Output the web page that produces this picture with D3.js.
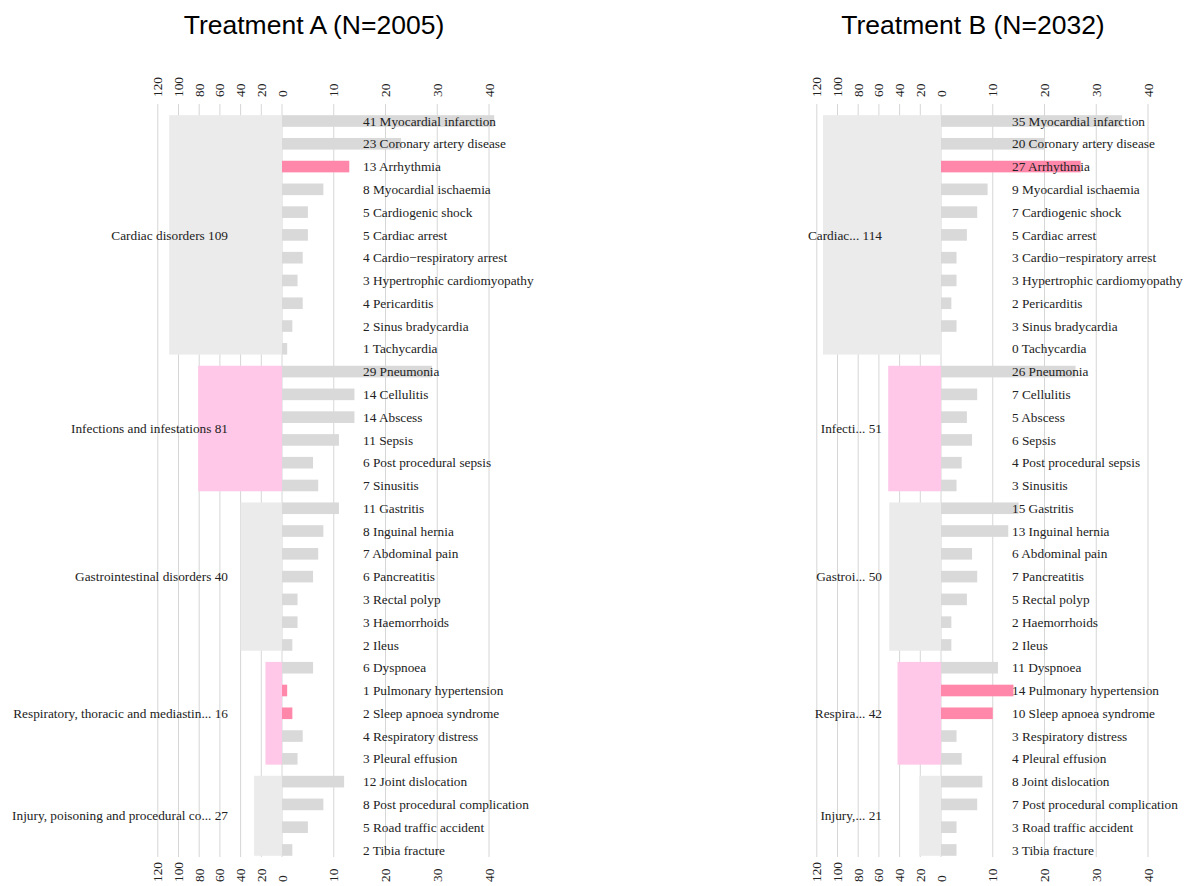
<!DOCTYPE html>
<html><head><meta charset="utf-8">
<script src="https://cdn.jsdelivr.net/npm/d3@7"></script>
<style>body{margin:0;background:#fff}</style>
</head><body>
<svg id="chart" width="1188" height="886"></svg>
<script>
// ---- data ----
const titles = ["Treatment A (N=2005)", "Treatment B (N=2032)"];
const socNames = ["Cardiac disorders", "Infections and infestations", "Gastrointestinal disorders",
  "Respiratory, thoracic and mediastinal disorders", "Injury, poisoning and procedural complications"];
const socLabelsA = ["Cardiac disorders", "Infections and infestations", "Gastrointestinal disorders",
  "Respiratory, thoracic and mediastin...", "Injury, poisoning and procedural co..."];
const socLabelsB = ["Cardiac...", "Infecti...", "Gastroi...", "Respira...", "Injury,..."];
const socTotalsA = [109, 81, 40, 16, 27];
const socTotalsB = [114, 51, 50, 42, 21];
const socHighlighted = [false, true, false, true, false];
const ptSoc = [0,0,0,0,0,0,0,0,0,0,0, 1,1,1,1,1,1, 2,2,2,2,2,2,2, 3,3,3,3,3, 4,4,4,4];
const ptNames = ["Myocardial infarction", "Coronary artery disease", "Arrhythmia", "Myocardial ischaemia",
  "Cardiogenic shock", "Cardiac arrest", "Cardio\u2212respiratory arrest", "Hypertrophic cardiomyopathy",
  "Pericarditis", "Sinus bradycardia", "Tachycardia",
  "Pneumonia", "Cellulitis", "Abscess", "Sepsis", "Post procedural sepsis", "Sinusitis",
  "Gastritis", "Inguinal hernia", "Abdominal pain", "Pancreatitis", "Rectal polyp", "Haemorrhoids", "Ileus",
  "Dyspnoea", "Pulmonary hypertension", "Sleep apnoea syndrome", "Respiratory distress", "Pleural effusion",
  "Joint dislocation", "Post procedural complication", "Road traffic accident", "Tibia fracture"];
const ptCountsA = [41,23,13,8,5,5,4,3,4,2,1, 29,14,14,11,6,7, 11,8,7,6,3,3,2, 6,1,2,4,3, 12,8,5,2];
const ptCountsB = [35,20,27,9,7,5,3,3,2,3,0, 26,7,5,6,4,3, 15,13,6,7,5,2,2, 11,14,10,3,4, 8,7,3,3];
const ptHighlighted = ["Arrhythmia", "Pulmonary hypertension", "Sleep apnoea syndrome"];
const ptTicks = [0, 10, 20, 30, 40];
const socTicks = [0, 20, 40, 60, 80, 100, 120];

// ---- layout ----
const panels = [
  {title: titles[0], socLabels: socLabelsA, socTotals: socTotalsA, counts: ptCountsA, x0: 282, titleX: 314, labelDx: 81, socDx: 54},
  {title: titles[1], socLabels: socLabelsB, socTotals: socTotalsB, counts: ptCountsB, x0: 941, titleX: 973, labelDx: 71, socDx: 59}
];
const pxPerUnit = 5.175;
const step = 22.78;
const yTopCenter = 121;
const n = ptNames.length;

const y = d3.scaleBand().domain(d3.range(n))
  .range([yTopCenter - step/2, yTopCenter - step/2 + step*n])
  .paddingInner(0.49).paddingOuter(0.245);
const barH = y.bandwidth();

const C = {socGrey: "#EBEBEB", socPink: "#FFC8E8", pt: "#D9D9D9", ptHi: "#FF88AA", grid: "#D6D6D6"};
const svg = d3.select("#chart");
const serif = "'Liberation Serif', 'Times New Roman', serif";
const fs = "13.3px";

panels.forEach(p => {
  const g = svg.append("g");
  const xPt = d3.scaleLinear().domain([0, 40]).range([p.x0, p.x0 + 40*pxPerUnit]);
  const xSoc = d3.scaleLinear().domain([0, 120]).range([p.x0, p.x0 - 120*pxPerUnit/5]);

  // title
  g.append("text").attr("x", p.titleX).attr("y", 34).attr("text-anchor", "middle")
    .style("font-family", "'Liberation Sans', Arial, sans-serif").style("font-size", "26.5px")
    .text(p.title);

  // grid lines
  const gridY0 = 104, gridY1 = 857;
  const gridXs = socTicks.filter(t => t > 0).map(t => xSoc(t)).concat(ptTicks.map(t => xPt(t)));
  g.append("g").selectAll("line").data(gridXs).join("line")
    .attr("x1", d => d).attr("x2", d => d).attr("y1", gridY0).attr("y2", gridY1)
    .attr("stroke", C.grid).attr("stroke-width", 1);

  // axes tick labels (top & bottom)
  const tickItems = socTicks.map(t => ({v: t, x: xSoc(t)}))
    .concat(ptTicks.filter(t => t > 0).map(t => ({v: t, x: xPt(t)})));
  [97, 882].forEach(yy => {
    g.append("g").selectAll("text").data(tickItems).join("text")
      .attr("transform", d => `translate(${d.x + 4.5},${yy}) rotate(-90)`)
      .attr("text-anchor", "start")
      .style("font-family", serif).style("font-size", fs).style("fill", "#222")
      .text(d => d.v);
  });

  // SOC blocks
  socNames.forEach((s, si) => {
    const idx = d3.range(n).filter(i => ptSoc[i] === si);
    const top = y(idx[0]);
    const bottom = y(idx[idx.length - 1]) + barH;
    g.append("rect").attr("x", xSoc(p.socTotals[si])).attr("y", top)
      .attr("width", xSoc(0) - xSoc(p.socTotals[si])).attr("height", bottom - top)
      .attr("fill", socHighlighted[si] ? C.socPink : C.socGrey);
  });

  // PT bars
  g.append("g").selectAll("rect").data(d3.range(n)).join("rect")
    .attr("x", xPt(0)).attr("y", i => y(i))
    .attr("width", i => xPt(p.counts[i]) - xPt(0)).attr("height", barH)
    .attr("fill", i => ptHighlighted.includes(ptNames[i]) ? C.ptHi : C.pt);

  // SOC labels
  socNames.forEach((s, si) => {
    const idx = d3.range(n).filter(i => ptSoc[i] === si);
    const mid = (y(idx[0]) + y(idx[idx.length - 1]) + barH) / 2;
    g.append("text").attr("x", p.x0 - p.socDx).attr("y", mid).attr("dy", "0.35em")
      .attr("text-anchor", "end")
      .style("font-family", serif).style("font-size", fs).style("fill", "#222")
      .text(p.socLabels[si] + " " + p.socTotals[si]);
  });

  // PT labels
  g.append("g").selectAll("text").data(d3.range(n)).join("text")
    .attr("x", p.x0 + p.labelDx).attr("y", i => y(i) + barH/2).attr("dy", "0.35em")
    .style("font-family", serif).style("font-size", fs).style("fill", "#222")
    .text(i => p.counts[i] + " " + ptNames[i]);
});
</script>
</body></html>
